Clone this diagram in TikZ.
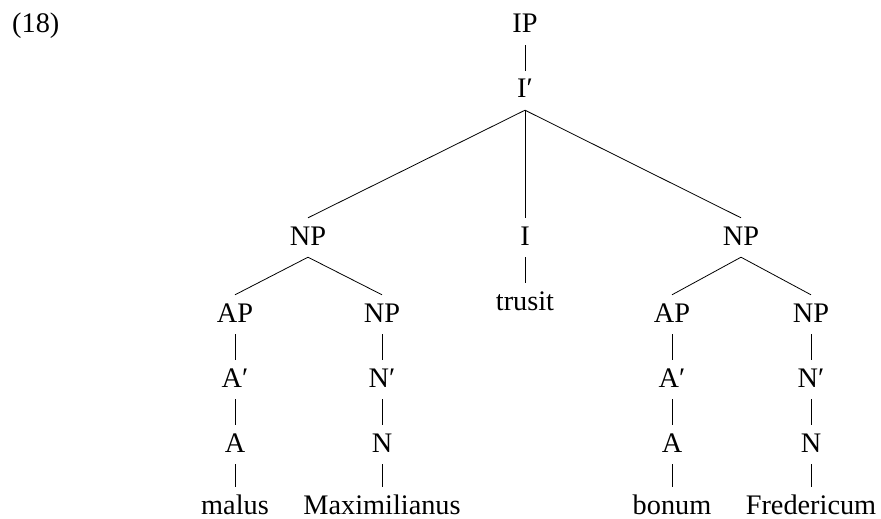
\documentclass[tikz,border=0pt]{standalone}
\usepackage{fontspec}
\setmainfont{Liberation Serif}
\begin{document}
\begin{tikzpicture}[x=1pt,y=-1pt,
  cat/.style={anchor=base,inner xsep=2pt,inner ysep=5pt,text height=22pt,text depth=7pt,font=\fontsize{28.3}{33}\selectfont},
  leaf/.style={cat,inner ysep=0pt,text height=27pt,text depth=0pt},
  edge/.style={line width=0.8pt,black}]
\useasboundingbox (0,0) rectangle (881,519);
\node[anchor=base west,inner sep=0pt,font=\fontsize{28.3}{33}\selectfont] (ex) at (12,33) {(18)};
\node[cat] (ip) at (525,33) {IP};
\node[cat] (ib) at (525,98) {I′};
\node[cat] (np1) at (308,245) {NP};
\node[cat] (i) at (525,245) {I};
\node[cat] (np2) at (741,245) {NP};
\node[leaf] (trusit) at (525,310) {trusit};
\node[cat] (ap1) at (235,322) {AP};
\node[cat] (npa) at (382,322) {NP};
\node[cat] (ap2) at (672,322) {AP};
\node[cat] (npb) at (811,322) {NP};
\node[cat] (ab1) at (235,387) {A′};
\node[cat] (nba) at (382,387) {N′};
\node[cat] (ab2) at (672,387) {A′};
\node[cat] (nbb) at (811,387) {N′};
\node[cat] (a1) at (235,452) {A};
\node[cat] (na) at (382,452) {N};
\node[cat] (a2) at (672,452) {A};
\node[cat] (nb) at (811,452) {N};
\node[leaf] (malus) at (235,514) {malus};
\node[leaf] (maxi) at (382,514) {Maximilianus};
\node[leaf] (bonum) at (672,514) {bonum};
\node[leaf] (fred) at (811,514) {Fredericum};
\draw[edge] (ip.south) -- (ib.north);
\draw[edge] (ib.south) -- (np1.north);
\draw[edge] (ib.south) -- (i.north);
\draw[edge] (ib.south) -- (np2.north);
\draw[edge] (i.south) -- (trusit.north);
\draw[edge] (np1.south) -- (ap1.north);
\draw[edge] (np1.south) -- (npa.north);
\draw[edge] (np2.south) -- (ap2.north);
\draw[edge] (np2.south) -- (npb.north);
\draw[edge] (ap1.south) -- (ab1.north);
\draw[edge] (ab1.south) -- (a1.north);
\draw[edge] (a1.south) -- (malus.north);
\draw[edge] (npa.south) -- (nba.north);
\draw[edge] (nba.south) -- (na.north);
\draw[edge] (na.south) -- (maxi.north);
\draw[edge] (ap2.south) -- (ab2.north);
\draw[edge] (ab2.south) -- (a2.north);
\draw[edge] (a2.south) -- (bonum.north);
\draw[edge] (npb.south) -- (nbb.north);
\draw[edge] (nbb.south) -- (nb.north);
\draw[edge] (nb.south) -- (fred.north);
\end{tikzpicture}
\end{document}
